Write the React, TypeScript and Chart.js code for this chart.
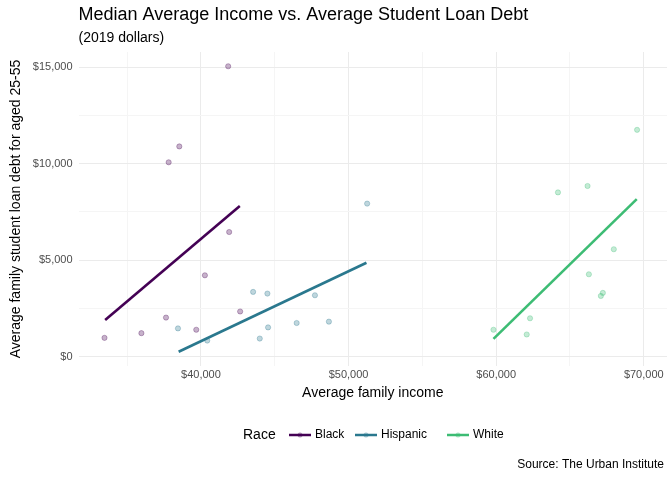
import { useEffect, useRef } from 'react';
import { Chart, registerables } from 'chart.js';

Chart.register(...registerables);

const groups = ['Black', 'Hispanic', 'White'];
const colors = ['#440154', '#2A788E', '#3DBC74'];

const blackIncome = [33466, 35966, 37633, 37813, 38534, 39682, 41845, 41912, 40268, 42656];
const blackDebt = [965, 1210, 2017, 10070, 10893, 1386, 15050, 6455, 4210, 2333];
const hispanicIncome = [38444, 40426, 43534, 44502, 43985, 44548, 46485, 47723, 48669, 51259];
const hispanicDebt = [1456, 824, 3350, 3262, 930, 1508, 1736, 3175, 1807, 7928];
const whiteIncome = [59818, 62070, 62295, 64187, 66191, 66282, 67093, 67228, 67971, 69547];
const whiteDebt = [1386, 1140, 1982, 8509, 8842, 4263, 3140, 3298, 5561, 11754];

// fitted lines: [x0, y0, x1, y1]
const fitBlack = [33510, 1894, 42633, 7805];
const fitHispanic = [38489, 246, 51214, 4859];
const fitWhite = [59818, 912, 69525, 8158];

const xTicks = [35000, 40000, 45000, 50000, 55000, 60000, 65000, 70000];
const yTicks = [0, 2500, 5000, 7500, 10000, 12500, 15000];

const FONT = '"Liberation Sans", Arial, sans-serif';
const money = (v: number) => '$' + v.toLocaleString('en-US');

function alpha(hex: string, a: number) {
  const n = parseInt(hex.slice(1), 16);
  return `rgba(${n >> 16},${(n >> 8) & 255},${n & 255},${a})`;
}

const extras = {
  id: 'extras',
  afterDraw(chart: Chart) {
    const ctx = chart.ctx;
    const left = chart.chartArea.left;
    ctx.save();
    ctx.fillStyle = '#000';
    ctx.textBaseline = 'middle';
    ctx.font = `18px ${FONT}`;
    ctx.fillText('Median Average Income vs. Average Student Loan Debt', left, 15);
    ctx.font = `14px ${FONT}`;
    ctx.fillText('(2019 dollars)', left, 38);

    const y = 435;
    ctx.fillText('Race', 243, y);
    const xs = [289, 355, 447];
    groups.forEach((g, i) => {
      const x = xs[i];
      ctx.strokeStyle = colors[i];
      ctx.lineWidth = 2.5;
      ctx.beginPath();
      ctx.moveTo(x, y);
      ctx.lineTo(x + 22, y);
      ctx.stroke();
      ctx.fillStyle = alpha(colors[i], 0.4);
      ctx.beginPath();
      ctx.arc(x + 11, y, 2.5, 0, Math.PI * 2);
      ctx.fill();
      ctx.fillStyle = '#000';
      ctx.font = `12px ${FONT}`;
      ctx.fillText(g, x + 26, y);
    });
    ctx.font = `12px ${FONT}`;
    ctx.textAlign = 'right';
    ctx.fillText('Source: The Urban Institute', 664, 465);
    ctx.restore();
  },
};

export default function App() {
  const canvasRef = useRef<HTMLCanvasElement>(null);

  useEffect(() => {
    if (!canvasRef.current) return;
    const pts = (xs: number[], ys: number[]) => xs.map((x, i) => ({ x, y: ys[i] }));
    const line = (f: number[]) => [{ x: f[0], y: f[1] }, { x: f[2], y: f[3] }];
    const scatterSets = [
      pts(blackIncome, blackDebt),
      pts(hispanicIncome, hispanicDebt),
      pts(whiteIncome, whiteDebt),
    ].map((data, i) => ({
      type: 'scatter' as const,
      label: groups[i],
      data,
      pointRadius: 2.6,
      backgroundColor: alpha(colors[i], 0.3),
      borderColor: alpha(colors[i], 0.3),
      borderWidth: 1,
    }));
    const lineSets = [fitBlack, fitHispanic, fitWhite].map((f, i) => ({
      type: 'line' as const,
      label: groups[i] + ' fit',
      data: line(f),
      borderColor: colors[i],
      borderWidth: 2.6,
      pointRadius: 0,
      fill: false,
    }));

    const chart = new Chart(canvasRef.current, {
      type: 'scatter',
      data: { datasets: [...scatterSets, ...lineSets] as any },
      options: {
        animation: false,
        responsive: false,
        layout: { padding: { left: 4, right: 4, top: 52, bottom: 74 } },
        plugins: {
          legend: { display: false },
          tooltip: { enabled: false },
        },
        scales: {
          x: {
            type: 'linear',
            min: 31709,
            max: 71574,
            afterBuildTicks: (s: any) => { s.ticks = xTicks.map((v) => ({ value: v })); },
            ticks: {
              color: '#4d4d4d',
              font: { family: FONT, size: 11 },
              callback: (v: any) => (v % 10000 === 0 ? money(v) : ''),
              maxRotation: 0,
              padding: 2,
            },
            grid: {
              color: (c: any) => (c.tick && c.tick.value % 10000 === 0 ? '#ebebeb' : '#f5f5f5'),
              drawTicks: false,
            },
            border: { display: false },
            title: { display: true, text: 'Average family income', color: '#000', font: { family: FONT, size: 14 }, padding: { top: 2 } },
          },
          y: {
            type: 'linear',
            min: -494,
            max: 15790,
            afterBuildTicks: (s: any) => { s.ticks = yTicks.map((v) => ({ value: v })); },
            ticks: {
              color: '#4d4d4d',
              font: { family: FONT, size: 11 },
              callback: (v: any) => (v % 5000 === 0 ? money(v) : ''),
              padding: 6,
            },
            grid: {
              color: (c: any) => (c.tick && c.tick.value % 5000 === 0 ? '#ebebeb' : '#f5f5f5'),
              drawTicks: false,
            },
            border: { display: false },
            title: { display: true, text: 'Average family student loan debt for aged 25-55', color: '#000', font: { family: FONT, size: 14 }, padding: { bottom: 2 } },
          },
        },
      },
      plugins: [extras],
    });
    return () => chart.destroy();
  }, []);

  return (
    <div style={{ position: 'absolute', left: 0, top: 0, width: 672, height: 480, background: '#fff' }}>
      <canvas ref={canvasRef} width={672} height={480} style={{ display: 'block' }} />
    </div>
  );
}
